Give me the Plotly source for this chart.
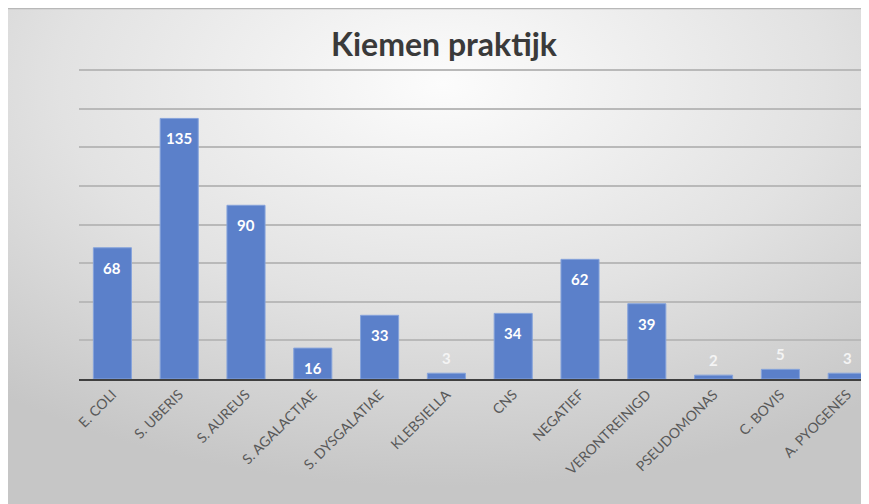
import base64
import plotly.graph_objects as go

categories = ["E. COLI", "S. UBERIS", "S. AUREUS", "S. AGALACTIAE", "S. DYSGALATIAE",
              "KLEBSIELLA", "CNS", "NEGATIEF", "VERONTREINIGD", "PSEUDOMONAS",
              "C. BOVIS", "A. PYOGENES"]
values = [68, 135, 90, 16, 33, 3, 34, 62, 39, 2, 5, 3]
title_text = "Kiemen praktijk"

W, H = 869, 504
ML, MR, MT, MB = 71, 0, 56, 133
PW, PH = W - ML - MR, H - MT - MB

svg = ('<svg xmlns="http://www.w3.org/2000/svg" width="869" height="504" viewBox="0 0 869 504" '
       'preserveAspectRatio="none"><defs><radialGradient id="g" cx="0.5" cy="0.15" r="0.8">'
       '<stop offset="0" stop-color="#fcfcfc"/><stop offset="0.55" stop-color="#e2e2e2"/>'
       '<stop offset="1" stop-color="#c6c6c6"/></radialGradient></defs>'
       '<rect x="0" y="0" width="869" height="504" fill="url(#g)"/>'
       '<line x1="0" y1="0.5" x2="869" y2="0.5" stroke="#b8b8b8" stroke-width="1.5"/></svg>')
uri = "data:image/svg+xml;base64," + base64.b64encode(svg.encode()).decode()

fig = go.Figure()
fig.add_trace(go.Bar(
    x=categories, y=values,
    marker=dict(color="#5b80ca", line=dict(color="#86a3db", width=1)),
    width=0.57, hoverinfo="x+y",
))

for c, v in zip(categories, values):
    big = v >= 10
    fig.add_annotation(x=c, y=v, text=str(v), showarrow=False,
                       yshift=-20 if big else 15,
                       font=dict(family="Lato", size=15, color="#ffffff" if big else "#f4f4f4",
                                 weight="bold"))

fig.update_layout(
    width=W, height=H,
    margin=dict(l=ML, r=MR, t=MT, b=MB, pad=0, autoexpand=False),
    paper_bgcolor="#ffffff",
    plot_bgcolor="rgba(0,0,0,0)",
    showlegend=False,
    title=dict(text=title_text, x=436 / W, xanchor="center", y=1 - 37 / H, yanchor="middle",
               font=dict(family="Lato", size=32, color="#3a3a3a", weight="bold")),
    images=[dict(source=uri, xref="paper", yref="paper",
                 x=-ML / PW, y=(H - MB) / PH,
                 sizex=W / PW, sizey=H / PH,
                 xanchor="left", yanchor="top", sizing="stretch", layer="below")],
    xaxis=dict(range=[-0.5, 11.446], showline=True, linecolor="#3f3f3f", linewidth=2,
               tickangle=-45, ticks="", showgrid=False, automargin=False,
               tickfont=dict(family="Lato", size=14, color="#595959")),
    yaxis=dict(range=[0, 163.2], tickvals=[20, 40, 60, 80, 100, 120, 140, 160],
               showticklabels=False, showgrid=True, automargin=False,
               gridcolor="#b9b9b9", gridwidth=1.5, zeroline=False),
    bargap=0.43,
)

fig.write_html("out.html")
